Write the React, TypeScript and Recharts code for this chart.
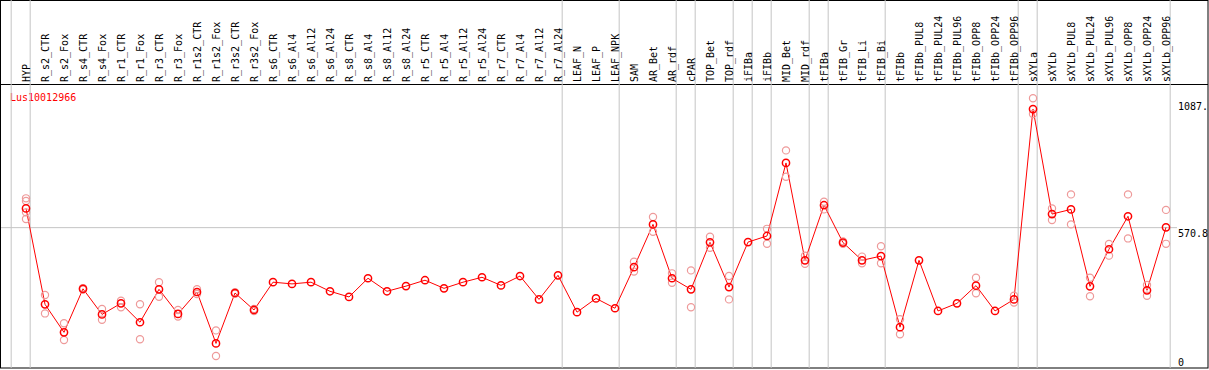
import React from "react";
import { ComposedChart, Line, Scatter, XAxis, YAxis, ReferenceLine } from "recharts";

const categories = [
  "HYP", "R_s2_CTR", "R_s2_Fox", "R_s4_CTR", "R_s4_Fox", "R_r1_CTR", "R_r1_Fox", "R_r3_CTR", "R_r3_Fox",
  "R_r1s2_CTR", "R_r1s2_Fox", "R_r3s2_CTR", "R_r3s2_Fox", "R_s6_CTR", "R_s6_Al4", "R_s6_Al12", "R_s6_Al24",
  "R_s8_CTR", "R_s8_Al4", "R_s8_Al12", "R_s8_Al24", "R_r5_CTR", "R_r5_Al4", "R_r5_Al12", "R_r5_Al24",
  "R_r7_CTR", "R_r7_Al4", "R_r7_Al12", "R_r7_Al24", "LEAF_N", "LEAF_P", "LEAF_NPK", "SAM", "AR_Bet", "AR_rdf",
  "cPAR", "TOP_Bet", "TOP_rdf", "iFIBa", "iFIBb", "MID_Bet", "MID_rdf", "tFIBa", "tFIB_Gr", "tFIB_Li", "tFIB_Bi",
  "tFIBb", "tFIBb_PUL8", "tFIBb_PUL24", "tFIBb_PUL96", "tFIBb_OPP8", "tFIBb_OPP24", "tFIBb_OPP96",
  "sXYLa", "sXYLb", "sXYLb_PUL8", "sXYLb_PUL24", "sXYLb_PUL96", "sXYLb_OPP8", "sXYLb_OPP24", "sXYLb_OPP96",
];

const means = [
  649, 259, 145, 322, 218, 263, 186, 320, 220, 309, 100, 305, 236, 349, 342, 349, 312,
  289, 365, 312, 333, 357, 324, 349, 369, 336, 374, 279, 377, 227, 283, 243, 410, 584, 365,
  320, 511, 329, 512, 537, 834, 438, 662, 510, 438, 455,
  166, 438, 232, 263, 335, 232, 279,
  1053, 626, 645, 332, 483, 617, 316, 572,
];

const replicates: number[][] = [
  [690, 679, 633, 606], [297, 222], [182, 114], [325, 319], [240, 196], [274, 247], [259, 117], [349, 290], [236, 209],
  [320, 301], [153, 49], [308, 302], [240, 232], [], [], [], [],
  [], [], [], [], [], [], [], [],
  [], [], [], [], [], [], [], [432, 392], [614, 554], [385, 347],
  [397, 247], [534, 489], [374, 279], [], [566, 505], [885, 778], [457, 424], [676, 645], [515, 505], [453, 426], [495, 426],
  [198, 137], [], [], [], [367, 304], [], [294, 266],
  [1097, 1033], [649, 602], [706, 584], [367, 292], [504, 457], [706, 527], [338, 294], [643, 505],
];

const groupEnds = [-1, 0, 28, 31, 34, 35, 37, 38, 39, 41, 42, 45, 52, 53, 60];
const yTicks = [0, 570.8, 1087];
const yTickLabels = ["0", "570.8", "1087."];
const title = "Lus10012966";

const data = means.map((m, i) => ({ x: i, mean: m }));
const repData = replicates.flatMap((reps, i) => reps.map((r) => ({ x: i, rep: r })));

const FONT = "'DejaVu Sans Mono', monospace";
const W = 1209;
const H = 370;

const XTick = (props: any) => {
  const { x, y, payload } = props;
  return (
    <text
      x={x}
      y={y}
      dy={3.6}
      transform={`rotate(-90, ${x}, ${y})`}
      textAnchor="start"
      fontFamily={FONT}
      fontSize={10}
      fill="#000"
    >
      {categories[payload.value]}
    </text>
  );
};

const YTick = (props: any) => {
  const { x, y, payload, index } = props;
  const label = yTickLabels[yTicks.indexOf(payload.value)] ?? String(payload.value);
  const dy = payload.value === 0 ? -2 : 9.5;
  return (
    <text x={x} y={y} dy={dy} textAnchor="start" fontFamily={FONT} fontSize={10} fill="#000" key={index}>
      {label}
    </text>
  );
};

const MeanDot = (props: any) => {
  const { cx, cy, index } = props;
  return <circle key={`m${index}`} cx={cx} cy={cy} r={3.6} fill="none" stroke="#ff0000" strokeWidth={1.5} />;
};

const RepDot = (props: any) => {
  const { cx, cy } = props;
  return <circle cx={cx} cy={cy} r={3.6} fill="none" stroke="#ee9a9a" strokeWidth={1.2} />;
};

const SepLine = (props: any) => {
  const { x1 } = props;
  return <line x1={x1} x2={x1} y1={0} y2={368} stroke="#c4c4c4" strokeWidth={1} />;
};

export default function App() {
  const xMin = -25 / 19;
  const xMax = xMin + 1176 / 19;
  return (
    <div style={{ position: "absolute", left: 0, top: 0, width: W, height: H, background: "#fff" }}>
      <ComposedChart
        width={W}
        height={H}
        data={data}
        margin={{ top: 0, right: 1, bottom: 2, left: 1 }}
      >
        <XAxis
          xAxisId="x"
          dataKey="x"
          type="number"
          orientation="top"
          domain={[xMin, xMax]}
          allowDataOverflow
          ticks={categories.map((_, i) => i)}
          interval={0}
          height={84}
          axisLine={false}
          tickLine={false}
          tickSize={0}
          tickMargin={2}
          tick={<XTick />}
        />
        <YAxis
          yAxisId="y"
          type="number"
          orientation="right"
          domain={[0, 1155]}
          allowDataOverflow
          ticks={yTicks}
          interval={0}
          width={31}
          axisLine={false}
          tickLine={false}
          tickSize={0}
          tickMargin={1}
          tick={<YTick />}
        />
        {groupEnds.map((g) => (
          <ReferenceLine key={`g${g}`} xAxisId="x" yAxisId="y" x={g + 0.22} shape={SepLine} />
        ))}
        <ReferenceLine xAxisId="x" yAxisId="y" y={570.8} stroke="#c4c4c4" strokeWidth={1} />
        <Scatter
          xAxisId="x"
          yAxisId="y"
          data={repData}
          dataKey="rep"
          shape={RepDot}
          isAnimationActive={false}
        />
        <Line
          xAxisId="x"
          yAxisId="y"
          dataKey="mean"
          stroke="#ff0000"
          strokeWidth={1}
          dot={MeanDot}
          activeDot={false}
          isAnimationActive={false}
        />
        <line x1={0} x2={1208} y1={84.5} y2={84.5} stroke="#000" strokeWidth={1} />
        <rect x={0.5} y={0.5} width={1207.5} height={367.5} fill="none" stroke="#000" strokeWidth={1} />
        <text x={10} y={101} fontFamily={FONT} fontSize={10} fill="#ff0000">
          {title}
        </text>
      </ComposedChart>
    </div>
  );
}
